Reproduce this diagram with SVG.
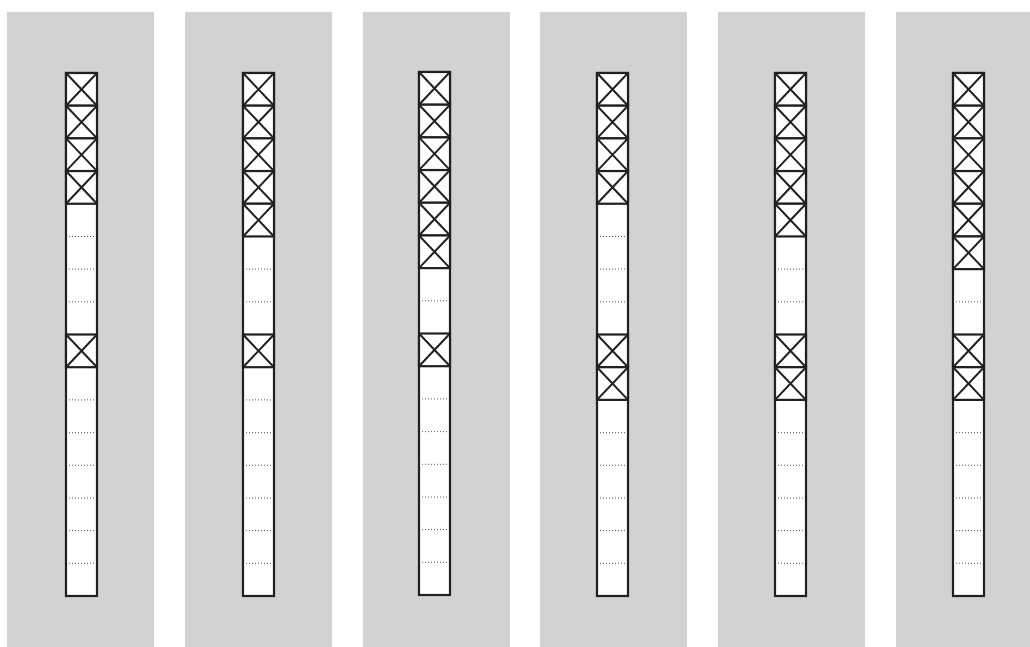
<svg xmlns="http://www.w3.org/2000/svg" width="1030" height="647" viewBox="0 0 1030 647">
<defs>
<style>
.panel{fill:#d1d2d4}
.col{fill:#fff;stroke:#231f20;stroke-width:2.2}
.xc{fill:#fff;stroke:#231f20;stroke-width:2.2}
.xd{stroke:#231f20;stroke-width:2}
.dot{stroke:#555;stroke-width:1;stroke-dasharray:1 2}
</style>
<g id="xcell"><rect class="xc" x="0" y="0" width="31" height="32.69"/><line class="xd" x1="0" y1="0" x2="31" y2="32.69"/><line class="xd" x1="31" y1="0" x2="0" y2="32.69"/></g>
</defs>
<rect width="1030" height="647" fill="#fff"/>
<g id="panels">
<rect class="panel" x="7" y="12" width="147" height="635"/>
<rect class="panel" x="185" y="12" width="147" height="635"/>
<rect class="panel" x="363" y="12" width="147" height="635"/>
<rect class="panel" x="540" y="12" width="147" height="635"/>
<rect class="panel" x="718" y="12" width="147" height="635"/>
<rect class="panel" x="896" y="12" width="147" height="635"/>
</g>
<g id="column1" transform="translate(66,73)">
<rect class="col" x="0" y="0" width="31" height="523"/>
<g class="dots"><line class="dot" x1="3" x2="28" y1="163.5" y2="163.5"/><line class="dot" x1="3" x2="28" y1="196.1" y2="196.1"/><line class="dot" x1="3" x2="28" y1="228.8" y2="228.8"/><line class="dot" x1="3" x2="28" y1="326.9" y2="326.9"/><line class="dot" x1="3" x2="28" y1="359.6" y2="359.6"/><line class="dot" x1="3" x2="28" y1="392.3" y2="392.3"/><line class="dot" x1="3" x2="28" y1="425" y2="425"/><line class="dot" x1="3" x2="28" y1="457.6" y2="457.6"/><line class="dot" x1="3" x2="28" y1="490.3" y2="490.3"/></g>
<use href="#xcell" y="0"/><use href="#xcell" y="32.69"/><use href="#xcell" y="65.38"/><use href="#xcell" y="98.06"/>
<use href="#xcell" y="261.5"/>
</g>
<g id="column2" transform="translate(243,73)">
<rect class="col" x="0" y="0" width="31" height="523"/>
<g class="dots"><line class="dot" x1="3" x2="28" y1="196.1" y2="196.1"/><line class="dot" x1="3" x2="28" y1="228.8" y2="228.8"/><line class="dot" x1="3" x2="28" y1="326.9" y2="326.9"/><line class="dot" x1="3" x2="28" y1="359.6" y2="359.6"/><line class="dot" x1="3" x2="28" y1="392.3" y2="392.3"/><line class="dot" x1="3" x2="28" y1="425" y2="425"/><line class="dot" x1="3" x2="28" y1="457.6" y2="457.6"/><line class="dot" x1="3" x2="28" y1="490.3" y2="490.3"/></g>
<use href="#xcell" y="0"/><use href="#xcell" y="32.69"/><use href="#xcell" y="65.38"/><use href="#xcell" y="98.06"/><use href="#xcell" y="130.75"/>
<use href="#xcell" y="261.5"/>
</g>
<g id="column3" transform="translate(419,72)">
<rect class="col" x="0" y="0" width="31" height="523"/>
<g class="dots"><line class="dot" x1="3" x2="28" y1="228.8" y2="228.8"/><line class="dot" x1="3" x2="28" y1="326.9" y2="326.9"/><line class="dot" x1="3" x2="28" y1="359.6" y2="359.6"/><line class="dot" x1="3" x2="28" y1="392.3" y2="392.3"/><line class="dot" x1="3" x2="28" y1="425" y2="425"/><line class="dot" x1="3" x2="28" y1="457.6" y2="457.6"/><line class="dot" x1="3" x2="28" y1="490.3" y2="490.3"/></g>
<use href="#xcell" y="0"/><use href="#xcell" y="32.69"/><use href="#xcell" y="65.38"/><use href="#xcell" y="98.06"/><use href="#xcell" y="130.75"/><use href="#xcell" y="163.44"/>
<use href="#xcell" y="261.5"/>
</g>
<g id="column4" transform="translate(597,73)">
<rect class="col" x="0" y="0" width="31" height="523"/>
<g class="dots"><line class="dot" x1="3" x2="28" y1="163.5" y2="163.5"/><line class="dot" x1="3" x2="28" y1="196.1" y2="196.1"/><line class="dot" x1="3" x2="28" y1="228.8" y2="228.8"/><line class="dot" x1="3" x2="28" y1="359.6" y2="359.6"/><line class="dot" x1="3" x2="28" y1="392.3" y2="392.3"/><line class="dot" x1="3" x2="28" y1="425" y2="425"/><line class="dot" x1="3" x2="28" y1="457.6" y2="457.6"/><line class="dot" x1="3" x2="28" y1="490.3" y2="490.3"/></g>
<use href="#xcell" y="0"/><use href="#xcell" y="32.69"/><use href="#xcell" y="65.38"/><use href="#xcell" y="98.06"/>
<use href="#xcell" y="261.5"/><use href="#xcell" y="294.2"/>
</g>
<g id="column5" transform="translate(775,73)">
<rect class="col" x="0" y="0" width="31" height="523"/>
<g class="dots"><line class="dot" x1="3" x2="28" y1="196.1" y2="196.1"/><line class="dot" x1="3" x2="28" y1="228.8" y2="228.8"/><line class="dot" x1="3" x2="28" y1="359.6" y2="359.6"/><line class="dot" x1="3" x2="28" y1="392.3" y2="392.3"/><line class="dot" x1="3" x2="28" y1="425" y2="425"/><line class="dot" x1="3" x2="28" y1="457.6" y2="457.6"/><line class="dot" x1="3" x2="28" y1="490.3" y2="490.3"/></g>
<use href="#xcell" y="0"/><use href="#xcell" y="32.69"/><use href="#xcell" y="65.38"/><use href="#xcell" y="98.06"/><use href="#xcell" y="130.75"/>
<use href="#xcell" y="261.5"/><use href="#xcell" y="294.2"/>
</g>
<g id="column6" transform="translate(953,73)">
<rect class="col" x="0" y="0" width="31" height="523"/>
<g class="dots"><line class="dot" x1="3" x2="28" y1="228.8" y2="228.8"/><line class="dot" x1="3" x2="28" y1="359.6" y2="359.6"/><line class="dot" x1="3" x2="28" y1="392.3" y2="392.3"/><line class="dot" x1="3" x2="28" y1="425" y2="425"/><line class="dot" x1="3" x2="28" y1="457.6" y2="457.6"/><line class="dot" x1="3" x2="28" y1="490.3" y2="490.3"/></g>
<use href="#xcell" y="0"/><use href="#xcell" y="32.69"/><use href="#xcell" y="65.38"/><use href="#xcell" y="98.06"/><use href="#xcell" y="130.75"/><use href="#xcell" y="163.44"/>
<use href="#xcell" y="261.5"/><use href="#xcell" y="294.2"/>
</g>
<g id="connectors"/>
</svg>
